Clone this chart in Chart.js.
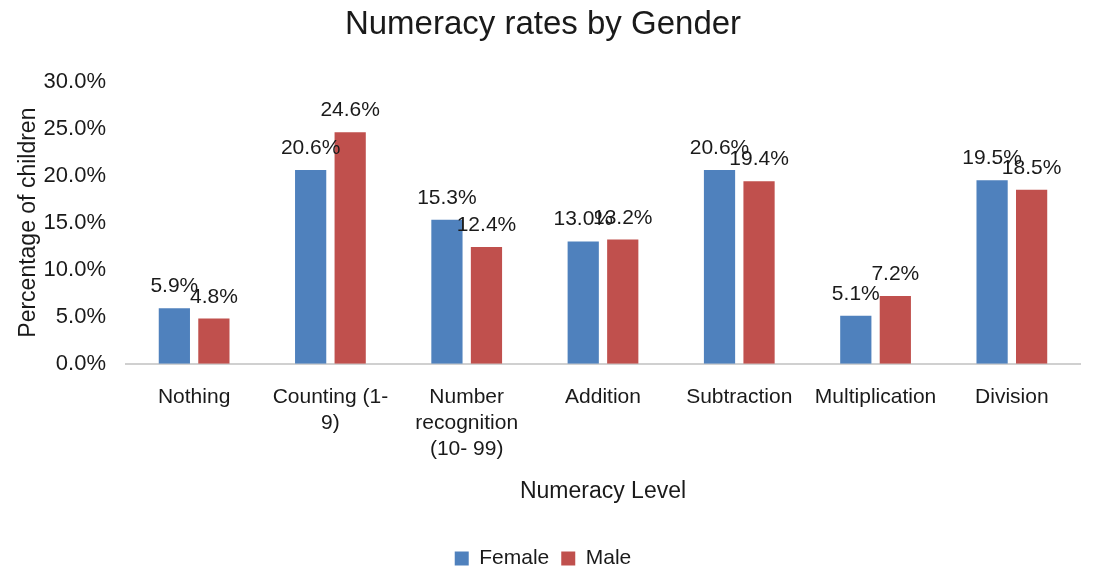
<!DOCTYPE html>
<html>
<head>
<meta charset="utf-8">
<script src="https://cdn.jsdelivr.net/npm/chart.js@4"></script>
<style>
  html, body { margin: 0; padding: 0; background: #fff; }
  #wrap { width: 1094px; height: 569px; }
</style>
</head>
<body>
<div id="wrap"><canvas id="numeracy-chart"></canvas></div>
<script>
(function() {
  'use strict';

  var BLUE = '#4f81bd';
  var RED  = '#c0504d';
  var TEXT = '#1a1a1a';
  var FONT = "'Liberation Sans', Arial, sans-serif";

  var categories = [
    'Nothing',
    ['Counting (1-', '9)'],
    ['Number', 'recognition', '(10- 99)'],
    'Addition',
    'Subtraction',
    'Multiplication',
    'Division'
  ];
  var female = [5.9, 20.6, 15.3, 13.0, 20.6, 5.1, 19.5];
  var male   = [4.8, 24.6, 12.4, 13.2, 19.4, 7.2, 18.5];

  /* valori sopra le barre */
  var barLabels = {
    id: 'barLabels',
    afterDatasetsDraw: function(chart) {
      var c = chart.ctx;
      c.save();
      c.font = '21px ' + FONT;
      c.fillStyle = TEXT;
      c.textAlign = 'center';
      c.textBaseline = 'alphabetic';
      chart.data.datasets.forEach(function(ds, di) {
        chart.getDatasetMeta(di).data.forEach(function(bar, i) {
          c.fillText(ds.data[i].toFixed(1) + '%', bar.x, bar.y - 16);
        });
      });
      c.restore();
    }
  };

  new Chart(document.getElementById('numeracy-chart'), {
    type: 'bar',
    data: {
      labels: categories,
      datasets: [
        { label: 'Female', data: female, backgroundColor: BLUE },
        { label: 'Male', data: male, backgroundColor: RED }
      ]
    },
    options: {
      responsive: true,
      maintainAspectRatio: false,
      animation: false,
      datasets: { bar: { categoryPercentage: 0.58, barPercentage: 0.79 } },
      layout: { padding: { left: 6, right: 14, top: 2, bottom: -10 } },
      plugins: {
        title: {
          display: true,
          text: 'Numeracy rates by Gender',
          color: TEXT,
          font: { family: FONT, size: 33, weight: 'normal' },
          padding: { top: 3, bottom: 37 }
        },
        legend: {
          position: 'bottom',
          labels: {
            color: TEXT,
            font: { family: FONT, size: 21 },
            boxWidth: 14,
            boxHeight: 14,
            padding: 12
          }
        },
        tooltip: { enabled: false }
      },
      scales: {
        x: {
          grid: { display: false, drawTicks: false },
          border: { color: '#d0d0d0', width: 2 },
          ticks: {
            color: TEXT,
            font: { family: FONT, size: 21, lineHeight: 1.25 },
            maxRotation: 0,
            autoSkip: false,
            padding: 20
          },
          title: {
            display: true,
            text: 'Numeracy Level',
            color: TEXT,
            font: { family: FONT, size: 23 },
            padding: { top: -5, bottom: 31 }
          }
        },
        y: {
          min: 0,
          max: 30,
          grid: { display: false, drawTicks: false },
          border: { display: false },
          ticks: {
            stepSize: 5,
            color: TEXT,
            font: { family: FONT, size: 22 },
            padding: 20,
            callback: function(v) { return v.toFixed(1) + '%'; }
          },
          title: {
            display: true,
            text: 'Percentage of children',
            color: TEXT,
            font: { family: FONT, size: 23 },
            padding: { top: 9, bottom: -19 }
          }
        }
      }
    },
    plugins: [barLabels]
  });
})();
</script>
</body>
</html>
